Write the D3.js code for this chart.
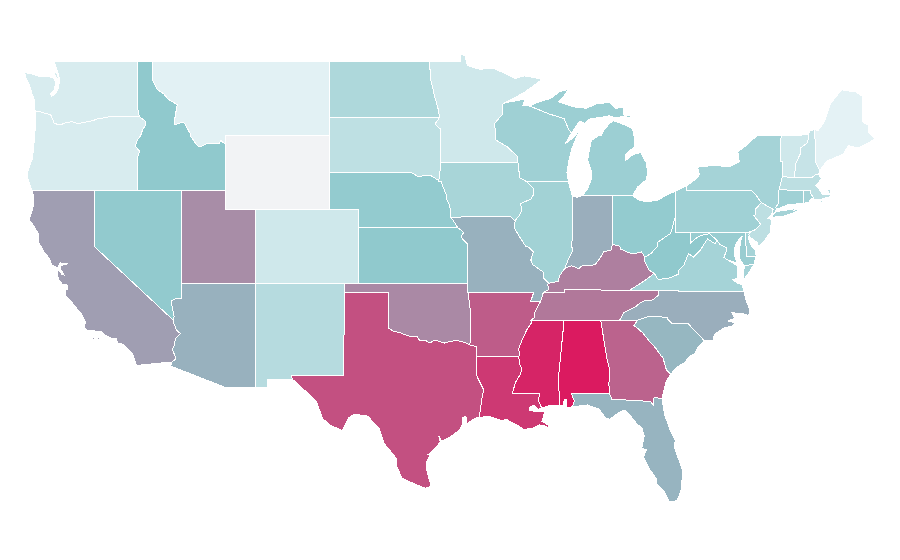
<!DOCTYPE html>
<html><head><meta charset="utf-8">
<style>html,body{margin:0;padding:0;background:#fff}svg{display:block}</style>
<script src="https://cdn.jsdelivr.net/npm/d3@7/dist/d3.min.js"></script>
</head><body><svg id="map" width="900" height="560"></svg>
<script>
// estimated value per state
const stateNames=["WA","OR","ID","MT","WY","UT","NV","CA","AZ","CO","NM","ND","SD","NE","KS","OK","TX","MN","IA","MO","AR","LA","MS","AL","FL","GA","SC","NC","TN","KY","IL","IN","OH","WI","MI","WV","VA","PA","MD","DE","NJ","NY","VT","NH","ME","MA","CT","RI"];
const stateValues=[9,9,49,3,0,67,48,62,56.6,14,28,32,23,47,49,68,84.5,14,35.5,56.6,81,91,97,100,55.7,79,55,57.5,73,71,39,57.5,47,40.5,42,49,37,40,44,37,24,37,14,19,2,24,40,37];
const colorDomain=[0,1,50,100];
const colorRange=["#f2f3f5","#e6f3f6","#8ec8cc","#db1a60"];
const lonDomain=[-124.73,-66.95], lonRange=[24.4,875.5];
const latDomain=[49,41,37,25.12], latRange=[61,209.3,283.3,501.7];

// shared borders, [lon,lat]
const arcs={
wa_top:[[-122.76,49],[-117.04,49]],
wa_id:[[-117.04,49],[-117.04,46.42],[-116.92,46]],
or_id:[[-116.92,46],[-116.5,45.75],[-116.47,45.6],[-116.7,45.3],[-116.85,44.95],[-117.05,44.75],[-117.2,44.42],[-117.05,44.25],[-116.9,44.15],[-117.03,43.85],[-117.03,42]],
wa_or:[[-124,46.27],[-123.6,46.25],[-123.4,46.2],[-123.2,46.15],[-122.95,46.1],[-122.8,45.85],[-122.72,45.65],[-122.45,45.57],[-122.2,45.58],[-121.9,45.68],[-121.5,45.72],[-121.2,45.65],[-120.9,45.65],[-120.5,45.72],[-120.1,45.78],[-119.6,45.92],[-119.2,45.93],[-118.98,46],[-116.92,46]],
wa_coast:[[-122.76,49],[-122.6,48.75],[-122.5,48.45],[-122.4,48.25],[-122.35,47.95],[-122.4,47.6],[-122.55,47.3],[-122.75,47.15],[-122.9,47.1],[-122.95,47.25],[-122.7,47.45],[-122.6,47.85],[-122.75,48.1],[-123.1,48.15],[-123.7,48.17],[-124.2,48.3],[-124.72,48.38],[-124.65,48.15],[-124.4,47.75],[-124.2,47.2],[-124.05,46.9],[-124.05,46.65],[-124,46.27]],
or_coast:[[-124,46.27],[-123.95,45.9],[-123.97,45.5],[-124.05,44.9],[-124.1,44.3],[-124.2,43.7],[-124.4,43.3],[-124.55,42.85],[-124.4,42.4],[-124.2,42]],
or_ca:[[-124.2,42],[-120,42]],
or_nv:[[-120,42],[-117.03,42]],
id_nv:[[-117.03,42],[-114.04,42]],
id_ut:[[-114.04,42],[-111.05,42]],
id_wy:[[-111.05,42],[-111.05,44.48]],
wy_w:[[-111.05,44.48],[-111.05,45]],
id_mt:[[-111.05,44.48],[-111.4,44.72],[-111.5,44.55],[-112.3,44.55],[-112.85,44.36],[-113,44.45],[-113.1,44.55],[-113.45,44.95],[-113.45,45.05],[-113.83,45.6],[-113.95,45.7],[-114.55,45.56],[-114.5,46],[-114.35,46.65],[-114.95,46.93],[-115.3,47.25],[-115.7,47.45],[-116.05,48],[-116.05,49]],
id_top:[[-116.05,49],[-117.04,49]],
mt_top:[[-116.05,49],[-104.05,49]],
mt_nd:[[-104.05,49],[-104.05,45.94]],
mt_sd:[[-104.05,45.94],[-104.05,45]],
mt_wy:[[-111.05,45],[-104.05,45]],
wy_sd:[[-104.05,45],[-104.05,43]],
wy_ne:[[-104.05,43],[-104.05,41]],
wy_co:[[-104.05,41],[-109.05,41]],
wy_ut:[[-109.05,41],[-111.05,41],[-111.05,42]],
ut_co:[[-109.05,41],[-109.05,37]],
ut_az:[[-109.05,37],[-114.05,37]],
ut_nv:[[-114.05,37],[-114.04,42]],
az_nv:[[-114.05,37],[-114.05,36.2],[-114.5,36.15],[-114.74,36.05],[-114.7,35.7],[-114.57,35.2],[-114.63,35]],
ca_nv:[[-120,42],[-120,39],[-114.63,35]],
ca_az:[[-114.63,35],[-114.6,34.85],[-114.4,34.45],[-114.15,34.27],[-114.5,33.95],[-114.52,33.65],[-114.7,33.4],[-114.47,33],[-114.5,32.85],[-114.72,32.72]],
ca_mx:[[-114.72,32.72],[-117.13,32.53]],
ca_coast:[[-124.2,42],[-124.1,41.7],[-124.15,41.1],[-124.4,40.44],[-124.1,40.1],[-123.8,39.7],[-123.75,39.2],[-123.4,38.7],[-123,38.3],[-122.9,38],[-122.5,37.83],[-122.4,37.95],[-122.3,38.1],[-122,38.07],[-121.8,38.05],[-122,38.02],[-122.3,37.95],[-122.3,37.8],[-122.1,37.55],[-122.05,37.45],[-122.2,37.5],[-122.4,37.7],[-122.5,37.75],[-122.5,37.5],[-122.4,37.2],[-122.15,36.95],[-121.85,36.95],[-121.8,36.7],[-121.95,36.6],[-121.9,36.3],[-121.5,35.95],[-121.2,35.65],[-120.9,35.4],[-120.75,35.15],[-120.6,34.9],[-120.65,34.58],[-120.45,34.45],[-119.9,34.4],[-119.45,34.35],[-119.2,34.15],[-118.8,34],[-118.5,34],[-118.4,33.75],[-118.2,33.75],[-117.9,33.6],[-117.4,33.2],[-117.25,32.85],[-117.13,32.53]],
az_nm:[[-109.05,37],[-109.05,31.33]],
az_mx:[[-109.05,31.33],[-111.07,31.33],[-114.81,32.5],[-114.72,32.72]],
ne_co:[[-104.05,41],[-102.05,41],[-102.05,40]],
co_ks:[[-102.05,40],[-102.05,37]],
co_ok:[[-102.05,37],[-103,37]],
co_nm:[[-103,37],[-109.05,37]],
nm_ok:[[-103,37],[-103,36.5]],
nm_tx:[[-103,36.5],[-103.06,32],[-106.62,32],[-106.53,31.78]],
nm_mx:[[-106.53,31.78],[-108.2,31.78],[-108.2,31.33],[-109.05,31.33]],
nd_top:[[-104.05,49],[-97.23,49]],
nd_mn:[[-97.23,49],[-97.15,48],[-96.85,47],[-96.6,46.3],[-96.56,45.94]],
nd_sd:[[-104.05,45.94],[-96.56,45.94]],
sd_mn:[[-96.56,45.94],[-96.85,45.6],[-96.45,45.3],[-96.45,43.5]],
sd_ia:[[-96.45,43.5],[-96.6,42.5],[-96.45,42.5]],
sd_ne:[[-104.05,43],[-98.5,43],[-98,42.77],[-97.2,42.85],[-96.7,42.6],[-96.45,42.5]],
ne_ia:[[-96.45,42.5],[-96.1,41.8],[-96.1,41.6],[-95.85,41.2],[-95.77,40.58]],
ne_mo:[[-95.77,40.58],[-95.3,40]],
ne_ks:[[-102.05,40],[-95.3,40]],
ks_mo:[[-95.3,40],[-94.9,39.75],[-95.1,39.5],[-94.62,39.1],[-94.62,37]],
ks_ok:[[-94.62,37],[-102.05,37]],
ok_mo:[[-94.62,37],[-94.62,36.5]],
ok_ar:[[-94.62,36.5],[-94.43,35.4],[-94.48,33.64]],
ok_tx:[[-103,36.5],[-100,36.5],[-100,34.56],[-99.7,34.4],[-99.2,34.3],[-98.9,34.2],[-98.5,34.1],[-98.1,34.13],[-97.9,33.9],[-97.5,33.9],[-97.2,33.75],[-96.9,33.9],[-96.6,33.85],[-96.2,33.75],[-95.8,33.85],[-95.3,33.88],[-94.9,33.8],[-94.48,33.64]],
tx_ar:[[-94.48,33.64],[-94.04,33.55],[-94.04,33.02]],
tx_la:[[-94.04,33.02],[-94.04,32],[-93.8,31.6],[-93.55,31.2],[-93.7,30.6],[-93.75,30.25],[-93.85,29.7]],
tx_coast:[[-93.85,29.7],[-94.1,29.67],[-94.7,29.35],[-94.75,29.75],[-95,29.7],[-94.95,29.4],[-95.2,29],[-95.9,28.6],[-96.4,28.4],[-96.6,28.7],[-96.5,28.35],[-97,27.9],[-97.3,27.7],[-97.15,27.7],[-97.4,27.3],[-97.4,26.8],[-97.2,26.2],[-97.15,25.96]],
tx_mx:[[-97.15,25.96],[-97.5,25.85],[-98.2,26.07],[-99.1,26.4],[-99.45,27.05],[-99.5,27.5],[-100.3,28.28],[-100.65,29.1],[-101,29.37],[-101.4,29.77],[-102.3,29.88],[-102.7,29.7],[-103.15,28.98],[-104,29.3],[-104.5,29.65],[-104.9,30.57],[-106,31.4],[-106.53,31.78]],
mn_top:[[-97.23,49],[-95.15,49],[-95.15,49.38],[-94.82,49.3],[-94.65,48.75],[-93.8,48.55],[-92.95,48.62],[-92,48.3],[-91.4,48.05],[-90.8,48.2],[-90.1,48.1],[-89.6,48],[-90.8,47.3],[-91.5,47],[-92.1,46.75]],
mn_wi:[[-92.1,46.75],[-92.3,46.66],[-92.3,46.1],[-92.85,45.6],[-92.75,45.3],[-92.75,44.75],[-92,44.4],[-91.25,43.85],[-91.22,43.5]],
ia_mn:[[-96.45,43.5],[-91.22,43.5]],
ia_wi:[[-91.22,43.5],[-91.1,42.7],[-90.65,42.5]],
ia_il:[[-90.65,42.5],[-90.15,42.1],[-90.15,41.8],[-90.35,41.55],[-91.05,41.3],[-91,41.1],[-90.95,40.95],[-91.1,40.7],[-91.42,40.38]],
mo_ia:[[-95.77,40.58],[-91.7,40.6],[-91.42,40.38]],
mo_il:[[-91.42,40.38],[-91.45,39.95],[-91.1,39.5],[-90.7,39],[-90.5,38.95],[-90.18,38.7],[-90.35,38.25],[-90.2,38],[-89.5,37.6],[-89.5,37.3],[-89.13,37]],
mo_ky:[[-89.13,37],[-89.2,36.95],[-89.15,36.65],[-89.5,36.5]],
mo_tn:[[-89.5,36.5],[-89.7,36]],
mo_ar:[[-89.7,36],[-90.37,36],[-90.15,36.5],[-94.62,36.5]],
ar_tn:[[-89.7,36],[-90.1,35.4],[-90.1,35.15],[-90.3,35]],
ar_ms:[[-90.3,35],[-90.3,34.85],[-90.6,34.5],[-90.9,34],[-91.05,33.7],[-91.2,33.4],[-91.1,33.2],[-91.17,33]],
ar_la:[[-94.04,33.02],[-91.17,33]],
la_ms:[[-91.17,33],[-91.1,32.6],[-90.95,32.3],[-91.1,32],[-91.4,31.6],[-91.5,31.3],[-91.6,31],[-89.73,31],[-89.85,30.65],[-89.6,30.2]],
la_coast:[[-89.6,30.2],[-89.85,30.15],[-90.1,30.35],[-90.4,30.3],[-90.45,30.1],[-90.1,30.03],[-89.8,30.05],[-89.4,30.05],[-89.5,29.75],[-89.6,29.5],[-89.2,29.3],[-89.05,29.1],[-89.4,29.25],[-89.8,29.3],[-90.1,29.15],[-90.4,29.1],[-90.85,29.05],[-91.3,29.3],[-91.8,29.5],[-92,29.6],[-92.3,29.53],[-93.2,29.77],[-93.85,29.7]],
ms_tn:[[-90.3,35],[-88.2,35]],
ms_al:[[-88.2,35],[-88.1,34.9],[-88.47,31.9],[-88.4,30.35]],
ms_coast:[[-89.6,30.2],[-89.3,30.3],[-88.9,30.38],[-88.4,30.35]],
al_tn:[[-88.2,35],[-85.6,34.98]],
al_ga:[[-85.6,34.98],[-85.18,32.87],[-85,32.3],[-85.05,31.5],[-85,31]],
al_fl:[[-85,31],[-87.6,31],[-87.4,30.6],[-87.52,30.28]],
al_coast:[[-88.4,30.35],[-88.1,30.35],[-88.1,30.6],[-88,30.7],[-87.9,30.65],[-87.9,30.25],[-87.52,30.28]],
fl_ga:[[-85,31],[-84.86,30.7],[-82.2,30.57],[-82.05,30.36],[-82,30.75],[-81.95,30.8],[-81.45,30.71]],
fl_coast:[[-81.45,30.71],[-81.25,29.8],[-80.9,29.05],[-80.55,28.45],[-80.6,28.1],[-80.35,27.5],[-80.03,26.8],[-80.15,25.75],[-80.4,25.2],[-80.7,25.12],[-80.95,25.15],[-81.3,25.7],[-81.8,26.1],[-81.85,26.4],[-82.3,26.9],[-82.7,27.55],[-82.5,27.95],[-82.75,28],[-82.85,27.9],[-82.65,28.7],[-82.8,29.1],[-83.2,29.4],[-83.7,29.9],[-84,30.1],[-84.4,29.95],[-85,29.6],[-85.3,29.68],[-85.7,30.15],[-86.5,30.38],[-87.52,30.28]],
ga_tn:[[-85.6,34.98],[-84.32,34.99]],
ga_nc:[[-84.32,34.99],[-83.1,35]],
ga_sc:[[-83.1,35],[-83.35,34.7],[-83.1,34.55],[-82.75,34.3],[-82.3,33.85],[-81.9,33.5],[-81.5,33.05],[-81.4,33],[-81.15,32.3],[-80.85,32.05]],
ga_coast:[[-80.85,32.05],[-81.15,31.7],[-81.3,31.2],[-81.45,30.71]],
sc_nc:[[-83.1,35],[-82.3,35.2],[-81.05,35.15],[-81.05,35.05],[-80.78,34.82],[-79.67,34.8],[-78.55,33.86]],
sc_coast:[[-78.55,33.86],[-79,33.55],[-79.2,33.2],[-79.6,33],[-79.9,32.7],[-80.4,32.45],[-80.65,32.25],[-80.85,32.05]],
nc_tn:[[-84.32,34.99],[-84.05,35.4],[-83.7,35.55],[-83.2,35.75],[-82.9,35.95],[-82.6,36.05],[-82.05,36.1],[-81.7,36.35],[-81.68,36.59]],
nc_va:[[-75.87,36.55],[-81.68,36.59]],
nc_coast:[[-78.55,33.86],[-77.95,33.9],[-77.9,34.2],[-77.3,34.55],[-76.6,34.7],[-76.5,34.85],[-76.95,34.95],[-76.5,35.1],[-76.7,35.4],[-76,35.35],[-75.55,35.25],[-75.5,35.6],[-75.75,36.1],[-75.87,36.55]],
tn_ky:[[-89.5,36.5],[-88.05,36.5],[-88.05,36.68],[-83.68,36.6]],
tn_va:[[-83.68,36.6],[-81.68,36.59]],
ky_il:[[-89.13,37],[-88.5,37.1],[-88.4,37.4],[-88.05,37.8]],
ky_in:[[-88.05,37.8],[-87.6,37.95],[-87.1,37.8],[-86.8,37.98],[-86.5,37.95],[-86,38],[-85.7,38.3],[-85.4,38.7],[-84.9,38.8],[-84.82,39.1]],
ky_oh:[[-84.82,39.1],[-84.3,39],[-84.25,38.85],[-83.7,38.65],[-83.3,38.6],[-82.85,38.7],[-82.6,38.42]],
ky_wv:[[-82.6,38.42],[-82.6,38.15],[-82.3,37.7],[-81.97,37.54]],
ky_va:[[-81.97,37.54],[-82.7,37.1],[-83.1,36.9],[-83.68,36.6]],
il_wi:[[-90.65,42.5],[-87.8,42.5]],
il_coast:[[-87.8,42.5],[-87.55,41.75],[-87.53,41.7]],
il_in:[[-87.53,41.7],[-87.53,39.35],[-87.6,39.1],[-87.5,38.75],[-87.75,38.4],[-87.95,38],[-88.05,37.8]],
in_coast:[[-87.53,41.7],[-87.2,41.65],[-86.82,41.76]],
in_mi:[[-86.82,41.76],[-84.8,41.76]],
in_oh:[[-84.8,41.76],[-84.82,39.1]],
oh_mi:[[-84.8,41.76],[-83.45,41.73]],
oh_coast:[[-83.45,41.73],[-83,41.5],[-82.5,41.4],[-81.7,41.5],[-81.2,41.75],[-80.52,41.98]],
oh_pa:[[-80.52,41.98],[-80.52,40.64]],
oh_wv:[[-80.52,40.64],[-80.65,40.3],[-80.85,39.7],[-81.5,39.35],[-81.75,39.2],[-81.75,39],[-82.2,38.6],[-82.6,38.42]],
wi_sup:[[-92.1,46.75],[-91.2,46.87],[-90.75,46.95],[-90.9,46.6],[-90.42,46.57]],
wi_mi:[[-90.42,46.57],[-89.1,46.14],[-88.1,45.9],[-87.8,45.35],[-87.6,45.1]],
wi_lake:[[-87.6,45.1],[-88,44.55],[-87.5,44.85],[-87.05,45.25],[-87.3,44.8],[-87.55,44.3],[-87.75,43.7],[-87.9,43],[-87.8,42.5]],
mi_up:[[-90.42,46.57],[-89.8,46.8],[-89,46.98],[-88.4,47.35],[-87.8,47.47],[-88.2,47],[-88.45,46.8],[-87.4,46.52],[-86.6,46.45],[-85.9,46.68],[-85,46.77],[-84.6,46.45],[-84.1,46.5],[-84,46],[-84.7,45.95],[-85,46.05],[-85.6,45.95],[-86.3,45.9],[-86.7,45.65],[-87.05,45.75],[-87.6,45.1]],
mi_lp:[[-86.82,41.76],[-86.5,42.1],[-86.2,42.7],[-86.25,43.1],[-86.5,43.65],[-86.25,44.7],[-85.7,45],[-85.55,45],[-85.4,45.25],[-85.05,45.6],[-84.75,45.78],[-84.2,45.63],[-83.45,45.35],[-83.35,45],[-83.3,44.4],[-83.9,43.95],[-83.9,43.65],[-83.4,43.95],[-82.9,44.07],[-82.5,43.5],[-82.42,43],[-82.5,42.6],[-83.1,42.2],[-83.45,41.73]],
va_wv:[[-81.97,37.54],[-81.7,37.2],[-81.25,37.25],[-80.9,37.3],[-80.3,37.5],[-80.3,37.7],[-79.95,38],[-79.65,38.6],[-79.3,38.42],[-78.87,38.77],[-78.35,39.4],[-77.83,39.13],[-77.72,39.32]],
wv_pa:[[-80.52,40.64],[-80.52,39.72],[-79.48,39.72]],
wv_md:[[-79.48,39.72],[-79.48,39.2],[-79.1,39.45],[-78.75,39.6],[-78.2,39.68],[-77.72,39.32]],
va_md:[[-77.72,39.32],[-77.5,39.1],[-77.05,38.9],[-77.04,38.78],[-77.25,38.4],[-76.95,38.25]],
va_coast:[[-76.95,38.25],[-76.35,37.95],[-76.3,37.55],[-76.35,37.25],[-76.65,37.2],[-76.3,37],[-76,36.92],[-75.87,36.55]],
pa_coast:[[-80.52,41.98],[-79.76,42.27]],
pa_ny:[[-79.76,42.27],[-79.76,42],[-75.35,42],[-75.05,41.75],[-74.7,41.36]],
pa_nj:[[-74.7,41.36],[-75.1,41],[-75.1,40.7],[-75.2,40.65],[-74.75,40.2],[-75.1,39.9],[-75.42,39.8]],
pa_de:[[-75.42,39.8],[-75.79,39.72]],
pa_md:[[-75.79,39.72],[-79.48,39.72]],
md_de:[[-75.79,39.72],[-75.7,38.46],[-75.05,38.45]],
md_coast:[[-75.05,38.45],[-75.2,38.03]],
md_shore:[[-75.2,38.03],[-75.85,37.95]],
md_bay:[[-75.85,37.95],[-76.2,38.35],[-76.2,38.75],[-76.1,39.3],[-76,39.55],[-76.4,39.2],[-76.5,38.9],[-76.5,38.45],[-76.35,38.1],[-76.95,38.25]],
de_coast:[[-75.42,39.8],[-75.6,39.45],[-75.4,39.05],[-75.1,38.8],[-75.05,38.45]],
nj_ny:[[-74.7,41.36],[-73.9,41],[-74.02,40.7]],
nj_coast:[[-74.02,40.7],[-74.25,40.5],[-74,40.45],[-74.1,39.75],[-74.4,39.4],[-74.9,38.93],[-74.95,39.2],[-75.5,39.5],[-75.55,39.65],[-75.42,39.8]],
ny_lake:[[-79.76,42.27],[-79.05,42.7],[-78.9,42.9],[-79.05,43.27],[-77.9,43.37],[-76.9,43.3],[-76.2,43.55],[-76.3,44.1],[-75.8,44.4],[-75,44.97],[-74.7,45],[-73.35,45]],
ny_vt:[[-73.35,45],[-73.4,44.5],[-73.4,43.6],[-73.25,43.55],[-73.27,42.75]],
ny_ma:[[-73.27,42.75],[-73.5,42.05]],
ny_ct:[[-73.5,42.05],[-73.55,41.3],[-73.73,41.1],[-73.65,41]],
ny_coast:[[-73.65,41],[-73.8,40.8],[-73.95,40.75],[-74.02,40.7]],
vt_top:[[-73.35,45],[-71.5,45.01]],
nh_vt:[[-71.5,45.01],[-71.55,44.6],[-72.05,44.3],[-72.05,44],[-72.35,43.5],[-72.46,42.73]],
vt_ma:[[-72.46,42.73],[-73.27,42.75]],
nh_top:[[-71.5,45.01],[-71.4,45.25],[-71.08,45.3]],
nh_me:[[-71.08,45.3],[-71,43.5],[-70.7,43.07]],
nh_coast:[[-70.7,43.07],[-70.82,42.87]],
nh_ma:[[-70.82,42.87],[-71,42.87],[-71.3,42.7],[-72.46,42.73]],
me_n:[[-71.08,45.3],[-70.85,45.25],[-70.4,45.75],[-70.25,46.15],[-70,46.7],[-69.25,47.45],[-69,47.4],[-68.3,47.35],[-67.8,47.07],[-67.8,45.7],[-67.45,45.55],[-67.45,45.15],[-66.97,44.82],[-67.6,44.5],[-68.2,44.3],[-68.8,44.45],[-69.1,44],[-69.8,43.75],[-70.25,43.6],[-70.55,43.3],[-70.7,43.07]],
ma_coast:[[-70.82,42.87],[-70.6,42.65],[-71,42.3],[-70.65,41.95],[-70.55,41.8],[-70,41.8],[-70,42.05],[-70.25,42.05],[-69.95,41.7],[-70.6,41.55],[-70.95,41.55],[-71.12,41.5]],
ma_ri:[[-71.12,41.5],[-71.2,41.67],[-71.35,41.85],[-71.38,42.02],[-71.8,42.02]],
ma_ct:[[-71.8,42.02],[-73.5,42.05]],
ct_ri:[[-71.8,42.02],[-71.85,41.32]],
ct_coast:[[-71.85,41.32],[-72.9,41.25],[-73.65,41]],
ri_coast:[[-71.12,41.5],[-71.3,41.6],[-71.45,41.4],[-71.85,41.32]]
};
const stateRings={
WA:["wa_top","wa_id","-wa_or","-wa_coast"],
OR:["wa_or","or_id","-or_nv","-or_ca","-or_coast"],
ID:["-id_mt","-id_wy","-id_ut","-id_nv","-or_id","-wa_id","-id_top"],
MT:["mt_top","mt_nd","mt_sd","-mt_wy","-wy_w","id_mt"],
WY:["mt_wy","wy_sd","wy_ne","wy_co","wy_ut","id_wy","wy_w"],
UT:["id_ut","-wy_ut","ut_co","ut_az","ut_nv"],
NV:["or_nv","id_nv","-ut_nv","az_nv","-ca_nv"],
CA:["or_ca","ca_nv","ca_az","ca_mx","-ca_coast"],
AZ:["-ut_az","az_nm","az_mx","-ca_az","-az_nv"],
CO:["-wy_co","ne_co","co_ks","co_ok","co_nm","-ut_co"],
NM:["-co_nm","nm_ok","nm_tx","nm_mx","-az_nm"],
ND:["nd_top","nd_mn","-nd_sd","-mt_nd"],
SD:["nd_sd","sd_mn","sd_ia","-sd_ne","-wy_sd","-mt_sd"],
NE:["sd_ne","ne_ia","ne_mo","-ne_ks","-ne_co","-wy_ne"],
KS:["ne_ks","ks_mo","ks_ok","-co_ks"],
OK:["-co_ok","-ks_ok","ok_mo","ok_ar","-ok_tx","-nm_ok"],
TX:["ok_tx","tx_ar","tx_la","tx_coast","tx_mx","-nm_tx"],
MN:["mn_top","mn_wi","-ia_mn","-sd_mn","-nd_mn"],
IA:["ia_mn","ia_wi","ia_il","-mo_ia","-ne_ia","-sd_ia"],
MO:["mo_ia","mo_il","mo_ky","mo_tn","mo_ar","-ok_mo","-ks_mo","-ne_mo"],
AR:["-mo_ar","ar_tn","ar_ms","-ar_la","-tx_ar","-ok_ar"],
LA:["ar_la","la_ms","la_coast","-tx_la"],
MS:["-ar_ms","ms_tn","ms_al","-ms_coast","-la_ms"],
AL:["al_tn","al_ga","al_fl","-al_coast","-ms_al"],
FL:["-al_fl","fl_ga","fl_coast"],
GA:["ga_tn","ga_nc","ga_sc","ga_coast","-fl_ga","-al_ga"],
SC:["sc_nc","sc_coast","-ga_sc"],
NC:["-ga_nc","nc_tn","-nc_va","-nc_coast","-sc_nc"],
TN:["tn_ky","tn_va","-nc_tn","-ga_tn","-al_tn","-ms_tn","-ar_tn","-mo_tn"],
KY:["-mo_ky","ky_il","ky_in","ky_oh","ky_wv","ky_va","-tn_ky"],
IL:["-ia_il","il_wi","il_coast","il_in","-ky_il","-mo_il"],
IN:["in_coast","in_mi","in_oh","-ky_in","-il_in"],
OH:["oh_mi","oh_coast","oh_pa","oh_wv","-ky_oh","-in_oh"],
WI:["-mn_wi","wi_sup","wi_mi","wi_lake","-il_wi","-ia_wi"],
MI:["mi_lp","-oh_mi","-in_mi"],
WV:["-ky_wv","-oh_wv","wv_pa","wv_md","-va_wv"],
VA:["va_wv","va_md","va_coast","nc_va","-tn_va","-ky_va"],
PA:["pa_coast","pa_ny","pa_nj","pa_de","pa_md","-wv_pa","-oh_pa"],
MD:["-pa_md","md_de","md_coast","md_shore","md_bay","-va_md","-wv_md"],
DE:["-md_de","-pa_de","de_coast"],
NJ:["-pa_nj","nj_ny","nj_coast"],
NY:["ny_lake","ny_vt","ny_ma","ny_ct","ny_coast","-nj_ny","-pa_ny"],
VT:["vt_top","nh_vt","vt_ma","-ny_vt"],
NH:["nh_top","nh_me","nh_coast","nh_ma","-nh_vt"],
ME:["me_n","-nh_me"],
MA:["-vt_ma","-nh_ma","ma_coast","ma_ri","ma_ct","-ny_ma"],
CT:["-ma_ct","ct_ri","ct_coast","-ny_ct"],
RI:["-ma_ri","ri_coast","-ct_ri"]
};
// extra rings: second part of a state, and islands
const extraRings={
MI:[["mi_up","-wi_mi"],[[-89.2,47.85],[-88.6,48.15],[-88.45,48.15],[-89,47.9]],[[-84,46],[-83.55,46.1],[-83.6,45.95]]],
NY:[[[-74,40.6],[-73.75,40.85],[-73.2,40.95],[-72.6,40.98],[-72.3,41.15],[-72.5,40.95],[-71.9,41.07],[-72.5,40.82],[-73.2,40.63],[-73.9,40.57]]],
VA:[[[-75.2,38.03],[-75.6,37.5],[-75.95,37.15],[-75.9,37.6],[-75.85,37.95]]],
CA:[[[-120.2,34],[-119.95,34.05],[-120,33.9]],[[-119.85,34.05],[-119.5,34.05],[-119.7,33.95]],[[-118.55,33.48],[-118.35,33.4],[-118.45,33.33]],[[-118.55,32.95],[-118.45,32.85],[-118.4,32.8]]],
MA:[[[-70.8,41.45],[-70.5,41.45],[-70.6,41.35]],[[-70.25,41.3],[-69.97,41.3],[-70.05,41.22]]],
WA:[[[-123,48.7],[-122.85,48.7],[-122.95,48.5]],[[-122.75,48.4],[-122.55,48.4],[-122.4,48],[-122.55,48.05]]]
};

const x=d3.scaleLinear().domain(lonDomain).range(lonRange);
const y=d3.scaleLinear().domain(latDomain).range(latRange);
const color=d3.scaleLinear().domain(colorDomain).range(colorRange).interpolate(d3.interpolateRgb);
const projection=d3.geoTransform({point(lon,lat){this.stream.point(x(lon),y(lat));}});
const path=d3.geoPath(projection);
const ring=tokens=>{const pts=tokens.flatMap(t=>t[0]==="-"?arcs[t.slice(1)].slice().reverse():arcs[t]);pts.push(pts[0]);return pts;};
const closed=r=>typeof r[0]==="string"?ring(r):r.concat([r[0]]);
const features=stateNames.map((n,i)=>({type:"Feature",properties:{name:n,value:stateValues[i]},
  geometry:{type:"MultiPolygon",coordinates:[[ring(stateRings[n])],...(extraRings[n]||[]).map(r=>[closed(r)])]}}));
d3.select("#map").selectAll("path").data(features).join("path")
  .attr("d",path).attr("fill",d=>color(d.properties.value))
  .attr("stroke","#fff").attr("stroke-width",1).attr("shape-rendering","crispEdges");
</script></body></html>
